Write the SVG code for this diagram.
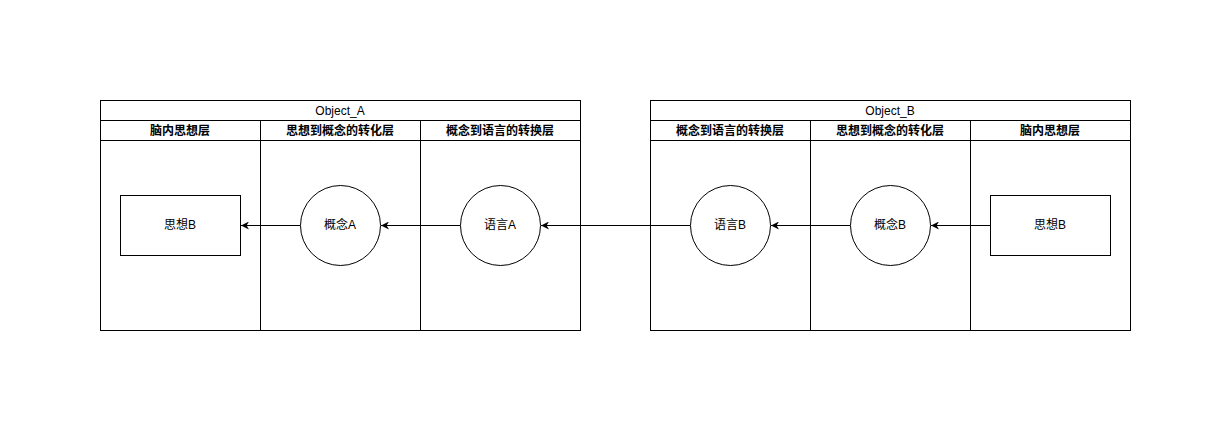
<svg xmlns="http://www.w3.org/2000/svg" width="1231" height="431" viewBox="0 0 1231 431">
<style>
.box{fill:#fff;stroke:#000;stroke-width:1}
.ln{fill:none;stroke:#000;stroke-width:1}
.t{font-family:"Liberation Sans","Noto Sans CJK SC",sans-serif;font-size:12px;fill:#000;text-anchor:middle;dominant-baseline:central}
.b{font-weight:bold}
.e{fill:none;stroke:#000;stroke-width:1}
</style>
<defs>
<marker id="ah" viewBox="0 0 10 10" refX="10" refY="5" markerWidth="8" markerHeight="8" markerUnits="userSpaceOnUse" orient="auto">
<path d="M10,5 L0,0 L3,5 L0,10 Z" fill="#000"/>
</marker>
</defs>
<rect width="1231" height="431" fill="#fff"/>
<g id="poolA">
<rect class="box" x="100.5" y="100.5" width="480" height="230"/>
<line class="ln" x1="100.5" y1="120.5" x2="580.5" y2="120.5"/>
<line class="ln" x1="100.5" y1="140.5" x2="580.5" y2="140.5"/>
<line class="ln" x1="260.5" y1="120.5" x2="260.5" y2="330.5"/>
<line class="ln" x1="420.5" y1="120.5" x2="420.5" y2="330.5"/>
<text class="t" x="340" y="111">Object_A</text>
<text class="t b" x="180" y="131">脑内思想层</text>
<text class="t b" x="340" y="131">思想到概念的转化层</text>
<text class="t b" x="500" y="131">概念到语言的转换层</text>
</g>
<g id="poolB">
<rect class="box" x="650.5" y="100.5" width="480" height="230"/>
<line class="ln" x1="650.5" y1="120.5" x2="1130.5" y2="120.5"/>
<line class="ln" x1="650.5" y1="140.5" x2="1130.5" y2="140.5"/>
<line class="ln" x1="810.5" y1="120.5" x2="810.5" y2="330.5"/>
<line class="ln" x1="970.5" y1="120.5" x2="970.5" y2="330.5"/>
<text class="t" x="890" y="111">Object_B</text>
<text class="t b" x="730" y="131">概念到语言的转换层</text>
<text class="t b" x="890" y="131">思想到概念的转化层</text>
<text class="t b" x="1050" y="131">脑内思想层</text>
</g>
<g id="connectors">
<line class="e" x1="300" y1="225.5" x2="241" y2="225.5" marker-end="url(#ah)"/>
<line class="e" x1="460" y1="225.5" x2="381" y2="225.5" marker-end="url(#ah)"/>
<line class="e" x1="690" y1="225.5" x2="541" y2="225.5" marker-end="url(#ah)"/>
<line class="e" x1="850" y1="225.5" x2="771" y2="225.5" marker-end="url(#ah)"/>
<line class="e" x1="990" y1="225.5" x2="931" y2="225.5" marker-end="url(#ah)"/>
</g>
<g id="thoughtA">
<rect class="box" x="120.5" y="195.5" width="120" height="60"/>
<text class="t" x="180" y="225">思想B</text>
</g>
<g id="conceptA">
<circle class="box" cx="340.5" cy="225.5" r="40"/>
<text class="t" x="340" y="225">概念A</text>
</g>
<g id="langA">
<circle class="box" cx="500.5" cy="225.5" r="40"/>
<text class="t" x="500" y="225">语言A</text>
</g>
<g id="langB">
<circle class="box" cx="730.5" cy="225.5" r="40"/>
<text class="t" x="730" y="225">语言B</text>
</g>
<g id="conceptB">
<circle class="box" cx="890.5" cy="225.5" r="40"/>
<text class="t" x="890" y="225">概念B</text>
</g>
<g id="thoughtB">
<rect class="box" x="990.5" y="195.5" width="120" height="60"/>
<text class="t" x="1050" y="225">思想B</text>
</g>
</svg>
